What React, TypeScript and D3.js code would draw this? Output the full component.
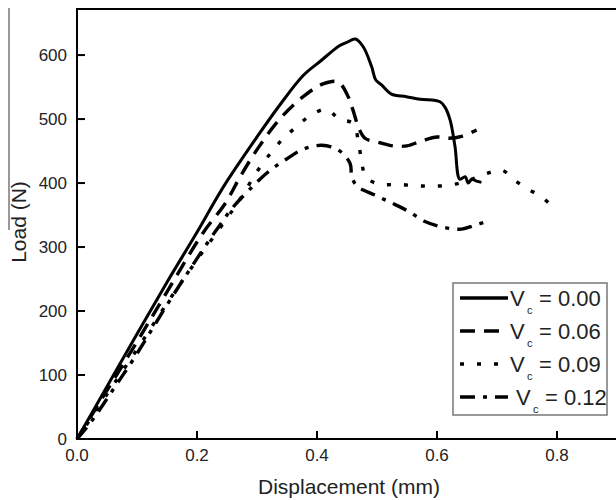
import React from 'react';
import * as d3 from 'd3';

// displacement (mm), load (N)
const vc000 = [
  [0, 0], [0.05, 82], [0.1, 164], [0.15, 245], [0.2, 323], [0.244, 394], [0.3, 472],
  [0.338, 522], [0.377, 568], [0.405, 590], [0.438, 615], [0.45, 620], [0.464, 625],
  [0.477, 613], [0.491, 582], [0.498, 561], [0.508, 553], [0.524, 539], [0.549, 535],
  [0.572, 531], [0.605, 527], [0.613, 519], [0.622, 498], [0.63, 457], [0.638, 406],
  [0.647, 410], [0.652, 400], [0.658, 406], [0.666, 403], [0.674, 401],
];
const vc006 = [
  [0, 0], [0.05, 76], [0.1, 152], [0.15, 230], [0.21, 322], [0.247, 368], [0.272, 410],
  [0.302, 455], [0.338, 500], [0.377, 535], [0.41, 555], [0.435, 558], [0.452, 535],
  [0.46, 514], [0.47, 485], [0.48, 470], [0.505, 463], [0.527, 458], [0.55, 458],
  [0.575, 466], [0.6, 472], [0.62, 470], [0.641, 473], [0.666, 483],
];
const vc009 = [
  [0, 0], [0.05, 70], [0.1, 140], [0.15, 212], [0.2, 280], [0.24, 332], [0.272, 375],
  [0.3, 418], [0.322, 446], [0.344, 470], [0.366, 488], [0.388, 505], [0.416, 515],
  [0.437, 500], [0.46, 493], [0.469, 465], [0.474, 436], [0.482, 409], [0.505, 398],
  [0.533, 398], [0.563, 396], [0.591, 395], [0.622, 397], [0.65, 403], [0.68, 414],
  [0.708, 420], [0.73, 404], [0.752, 390], [0.774, 379], [0.793, 362],
];
const vc012 = [
  [0, 0], [0.022, 25], [0.06, 77], [0.097, 129], [0.147, 205], [0.186, 262], [0.228, 321],
  [0.241, 338], [0.258, 360], [0.293, 395], [0.322, 420], [0.35, 438], [0.377, 453],
  [0.408, 459], [0.435, 452], [0.455, 431], [0.458, 410], [0.467, 395], [0.497, 381],
  [0.524, 369], [0.552, 356], [0.58, 340], [0.61, 331], [0.641, 328], [0.663, 334],
  [0.684, 340],
];

const seriesNames = ['0.00', '0.06', '0.09', '0.12'];
const seriesData = [vc000, vc006, vc009, vc012];
const dashes = [null, '15,9', '4,13', '15,8,4,8'];
const xTicks = [0, 0.2, 0.4, 0.6, 0.8];
const yTicks = [0, 100, 200, 300, 400, 500, 600];

const font = 'Liberation Sans, Arial, sans-serif';

export default function App() {
  const x = d3.scaleLinear().domain([0, 0.9]).range([77, 617]);
  const y = d3.scaleLinear().domain([0, 672]).range([439, 9]);
  const line = d3
    .line<number[]>()
    .x((d) => x(d[0]))
    .y((d) => y(d[1]))
    .curve(d3.curveCatmullRom.alpha(0.5));

  const legendRows = [298, 331, 364, 397];

  return (
    <svg width={616} height={500} style={{ position: 'absolute', left: 0, top: 0 }}>
      <rect width={616} height={500} fill="#fff" />
      {/* stray line at far left */}
      <line x1={9} x2={9} y1={8} y2={230} stroke="#555" strokeWidth={1.2} />

      {/* curves */}
      <g fill="none" stroke="#000">
        {seriesData.map((s, i) => (
          <path
            key={i}
            d={line(s) || ''}
            strokeWidth={i === 0 ? 3 : 3.4}
            strokeDasharray={dashes[i] || undefined}
            strokeLinejoin="round"
          />
        ))}
      </g>

      {/* axes */}
      <g stroke="#000" strokeWidth={2}>
        <line x1={x(0)} x2={616} y1={9} y2={9} />
        <line x1={x(0)} x2={x(0)} y1={8} y2={440} />
        <line x1={x(0) - 1} x2={616} y1={y(0)} y2={y(0)} />
        {xTicks.map((t) => (
          <line key={t} x1={x(t)} x2={x(t)} y1={y(0)} y2={y(0) - 8} />
        ))}
        {yTicks.map((t) => (
          <line key={t} x1={x(0)} x2={x(0) + 8} y1={y(t)} y2={y(t)} />
        ))}
      </g>
      <g fontFamily={font} fontSize={17} fill="#222">
        {xTicks.map((t) => (
          <text key={t} x={x(t)} y={461} textAnchor="middle">
            {t.toFixed(1)}
          </text>
        ))}
        {yTicks.map((t) => (
          <text key={t} x={67} y={y(t) + 6} textAnchor="end">
            {t}
          </text>
        ))}
      </g>
      <text x={349} y={494} fontFamily={font} fontSize={21} textAnchor="middle" fill="#222">
        Displacement (mm)
      </text>
      <text
        transform="translate(26,222) rotate(-90)"
        fontFamily={font}
        fontSize={21}
        textAnchor="middle"
        fill="#222"
      >
        Load (N)
      </text>

      {/* legend */}
      <rect x={453} y={283} width={154} height={132} fill="#fff" stroke="#777" strokeWidth={1.5} />
      {seriesNames.map((n, i) => {
        const tx = i === 3 ? 516 : 510;
        return (
          <g key={n} fontFamily={font} fill="#222">
            <line
              x1={460}
              x2={508}
              y1={legendRows[i]}
              y2={legendRows[i]}
              stroke="#000"
              strokeWidth={3.4}
              strokeDasharray={dashes[i] || undefined}
            />
            <text x={tx} y={legendRows[i] + 8} fontSize={22}>V</text>
            <text x={tx + 17} y={legendRows[i] + 16} fontSize={11}>c</text>
            <text x={tx + 29} y={legendRows[i] + 8} fontSize={22}>= {n}</text>
          </g>
        );
      })}
    </svg>
  );
}
